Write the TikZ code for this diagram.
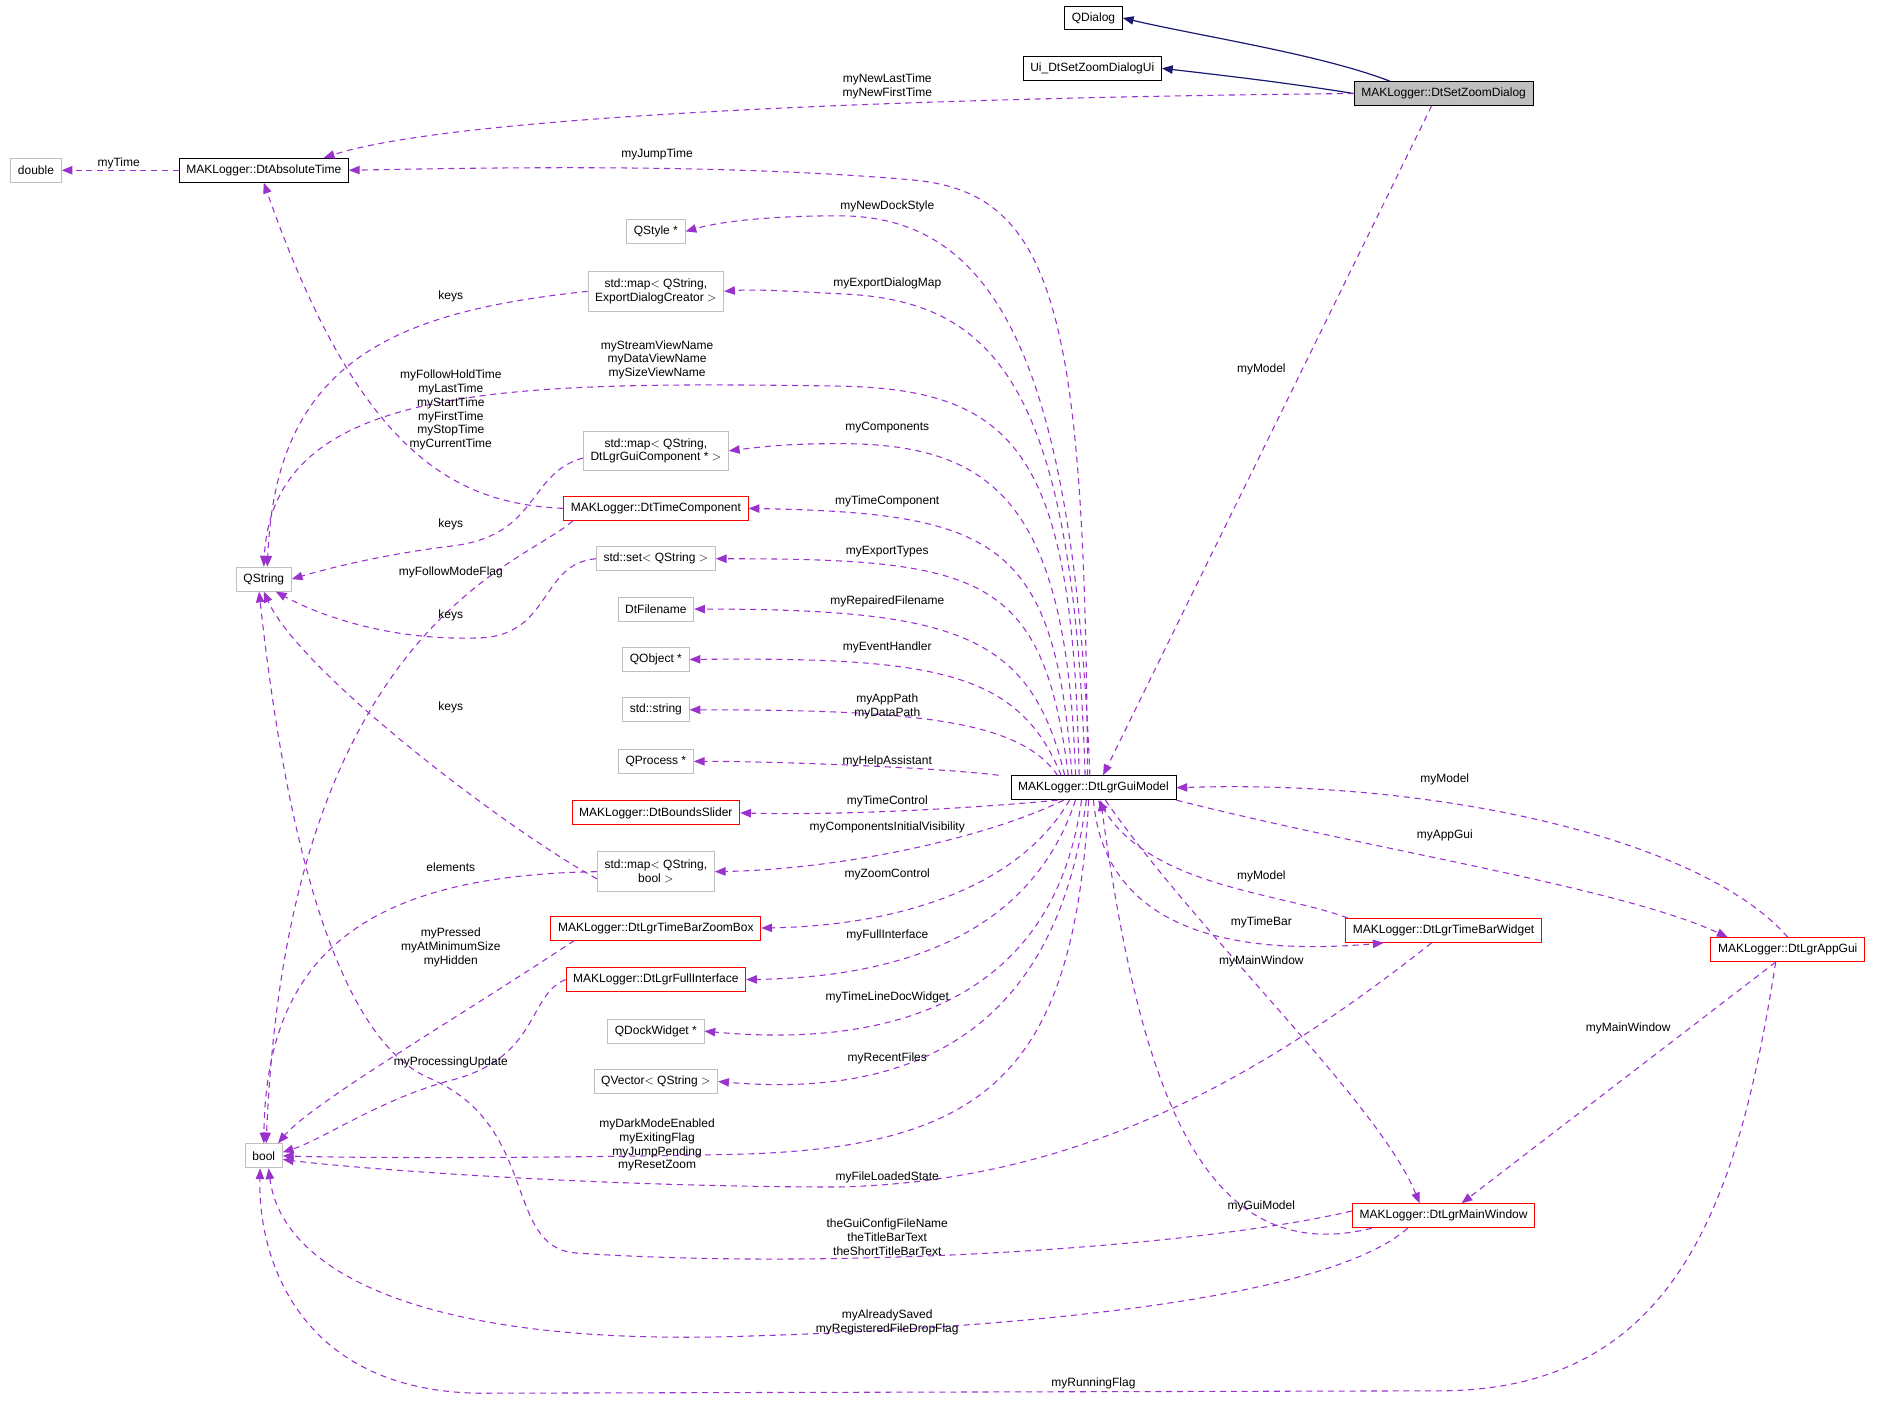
\documentclass[tikz,border=0pt]{standalone}
\usepackage{fontspec}
\setmainfont{Liberation Sans}
\usetikzlibrary{arrows.meta}
\definecolor{dep}{HTML}{9A32CD}
\definecolor{inh}{HTML}{191970}
\begin{document}
\begin{tikzpicture}[x=1pt,y=-1pt,
 box/.style={draw=#1,line width=0.8pt,minimum height=20pt,inner xsep=6pt,inner ysep=2pt,font=\fontsize{10}{11.5}\selectfont,align=center},
 gb/.style={box=black!25},
 rb/.style={box=red},
 bb/.style={box=black},
 dep/.style={draw=dep,dashed,dash pattern=on 5pt off 4pt,line width=0.9pt,-{Triangle[length=9pt,width=7pt]}},
 inh/.style={draw=inh,line width=1pt,-{Triangle[length=9pt,width=7pt]}},
 lbl/.style={font=\fontsize{10}{11.5}\selectfont,align=center,inner sep=0pt}]
\useasboundingbox (0,0) rectangle (1568,1170);
% nodes
\node[bb] (qd) at (912,15) {QDialog};
\node[bb] (ui) at (911,57) {Ui\_DtSetZoomDialogUi};
\node[bb,fill=black!25] (sz) at (1204,78) {MAKLogger::DtSetZoomDialog};
\node[gb] (dbl) at (30,142) {double};
\node[bb] (abs) at (220,142) {MAKLogger::DtAbsoluteTime};
\node[gb] (qst) at (547,193) {QStyle *};
\node[gb,minimum height=33pt] (med) at (547,243) {std::map$<$ QString,\\ExportDialogCreator $>$};
\node[gb] (qs) at (220,483) {QString};
\node[gb,minimum height=33pt] (mgc) at (547,376) {std::map$<$ QString,\\DtLgrGuiComponent * $>$};
\node[rb] (tc) at (547,424) {MAKLogger::DtTimeComponent};
\node[gb] (set) at (547,466) {std::set$<$ QString $>$};
\node[gb] (fn) at (547,508) {DtFilename};
\node[gb] (qo) at (547,550) {QObject *};
\node[gb] (str) at (547,592) {std::string};
\node[gb] (qp) at (547,635) {QProcess *};
\node[rb] (bs) at (547,678) {MAKLogger::DtBoundsSlider};
\node[gb,minimum height=33pt] (mb) at (547,727) {std::map$<$ QString,\\bool $>$};
\node[rb] (zb) at (547,774) {MAKLogger::DtLgrTimeBarZoomBox};
\node[rb] (fi) at (547,817) {MAKLogger::DtLgrFullInterface};
\node[gb] (dw) at (547,860) {QDockWidget *};
\node[gb] (qv) at (547,902) {QVector$<$ QString $>$};
\node[gb] (bool) at (220,964) {bool};
\node[bb] (gm) at (912,657) {MAKLogger::DtLgrGuiModel};
\node[rb] (tb) at (1204,776) {MAKLogger::DtLgrTimeBarWidget};
\node[rb] (ag) at (1491,792) {MAKLogger::DtLgrAppGui};
\node[rb] (mw) at (1204,1014) {MAKLogger::DtLgrMainWindow};
% inheritance
\draw[inh] ([xshift=-45pt]sz.north) .. controls (1100,45) and (1000,30) .. (qd.east);
\draw[inh] (sz.west) .. controls (1080,70) and (1030,64) .. (ui.east);
% dependencies
\draw[dep] (sz.west) .. controls (900,80) and (400,90) .. ([xshift=50pt]abs.north);
\draw[dep] ([xshift=-10pt]sz.south) -- ([xshift=8pt]gm.north);
\draw[dep] (abs.west) -- (dbl.east);
\draw[dep] ([xshift=-5pt]gm.north) .. controls (905,260) and (880,160) .. (760,150) .. controls (600,136) and (400,140) .. (abs.east);
\draw[dep] ([xshift=-3pt]gm.north) .. controls (895,300) and (830,180) .. (700,180) .. controls (640,180) and (600,185) .. (qst.east);
\draw[dep] ([xshift=-7pt]gm.north) .. controls (895,320) and (830,250) .. (700,245) .. controls (660,243) and (630,241) .. (med.east);
\draw[dep] (med.west) .. controls (330,260) and (230,300) .. ([xshift=3pt]qs.north);
\draw[dep] ([xshift=-12pt]gm.north) .. controls (895,380) and (850,325) .. (700,322) .. controls (420,318) and (228,320) .. (qs.north);
\draw[dep] (tc.west) .. controls (380,420) and (300,380) .. (abs.south);
\draw[dep] ([xshift=-15pt]gm.north) .. controls (890,420) and (830,370) .. (700,370) .. controls (660,370) and (640,372) .. (mgc.east);
\draw[dep] ([yshift=-6pt]mgc.west) .. controls (440,395) and (450,445) .. (380,455) .. controls (320,462) and (270,475) .. (qs.east);
\draw[dep] ([xshift=-18pt]gm.north) .. controls (880,450) and (830,428) .. (tc.east);
\draw[dep] ([xshift=8pt]tc.south west) .. controls (440,470) and (240,520) .. ([xshift=2pt]bool.north);
\draw[dep] ([xshift=-21pt]gm.north) .. controls (870,480) and (820,466) .. (set.east);
\draw[dep] (set.west) .. controls (450,470) and (460,530) .. (400,532) .. controls (320,535) and (260,510) .. ([xshift=10pt]qs.south);
\draw[dep] ([xshift=-24pt]gm.north) .. controls (860,530) and (800,508) .. (fn.east);
\draw[dep] ([xshift=-27pt]gm.north) .. controls (850,560) and (780,548) .. (qo.east);
\draw[dep] ([xshift=-30pt]gm.north) .. controls (850,600) and (760,592) .. (str.east);
\draw[dep] ([xshift=-10pt]gm.north west) .. controls (780,640) and (650,635) .. (qp.east);
\draw[dep] ([xshift=-30pt]gm.south) .. controls (800,675) and (700,680) .. (bs.east);
\draw[dep] ([xshift=-25pt]gm.south) .. controls (820,700) and (700,725) .. (mb.east);
\draw[dep] ([yshift=-6pt]mb.west) .. controls (420,690) and (250,560) .. (qs.south);
\draw[dep] (mb.west) .. controls (300,730) and (222,800) .. (bool.north);
\draw[dep] ([xshift=-20pt]gm.south) .. controls (850,740) and (750,772) .. (zb.east);
\draw[dep] ([xshift=20pt]zb.south west) .. controls (380,850) and (260,920) .. ([xshift=-4pt]bool.north east);
\draw[dep] ([xshift=-15pt]gm.south) .. controls (860,780) and (750,815) .. (fi.east);
\draw[dep] (fi.west) .. controls (440,830) and (450,880) .. (380,900) .. controls (320,915) and (270,950) .. ([yshift=3pt]bool.east);
\draw[dep] ([xshift=-10pt]gm.south) .. controls (880,830) and (750,875) .. (dw.east);
\draw[dep] ([xshift=-6pt]gm.south) .. controls (880,870) and (750,915) .. (qv.east);
\draw[dep] ([xshift=-4pt]gm.south) .. controls (895,900) and (820,960) .. (600,963) .. controls (450,966) and (300,966) .. (bool.east);
\draw[dep] (ag.north) .. controls (1420,700) and (1200,650) .. (gm.east);
\draw[dep] (gm.south east) .. controls (1150,710) and (1350,740) .. ([xshift=-50pt]ag.north);
\draw[dep] ([xshift=-80pt]tb.north) .. controls (1070,745) and (960,740) .. ([xshift=4pt]gm.south);
\draw[dep] ([xshift=0pt]gm.south) .. controls (920,760) and (1000,800) .. ([xshift=-50pt]tb.south);
\draw[dep] ([xshift=-10pt]tb.south) .. controls (1050,900) and (900,985) .. (700,990) .. controls (500,990) and (300,975) .. ([yshift=-3pt]bool.east);
\draw[dep] ([xshift=10pt]gm.south) .. controls (1000,780) and (1150,920) .. ([xshift=-20pt]mw.north);
\draw[dep] ([xshift=-10pt]ag.south) -- ([xshift=15pt]mw.north);
\draw[dep] ([xshift=-60pt]mw.south) .. controls (1000,1060) and (950,900) .. ([xshift=6pt]gm.south);
\draw[dep] ([yshift=4pt]mw.west) .. controls (1000,1040) and (700,1060) .. (480,1045) .. controls (420,1040) and (450,940) .. (360,900) .. controls (260,860) and (228,600) .. ([xshift=-4pt]qs.south);
\draw[dep] ([xshift=-30pt]mw.south) .. controls (1100,1090) and (800,1110) .. (600,1115) .. controls (350,1120) and (235,1060) .. ([xshift=4pt]bool.south);
\draw[dep] ([xshift=-10pt]ag.south) .. controls (1450,1000) and (1400,1160) .. (1200,1160) -- (400,1162) .. controls (250,1160) and (215,1050) .. ([xshift=-3pt]bool.south);
% labels
\node[lbl] (l1) at (740,72) {myNewLastTime\\myNewFirstTime};
\node[lbl] (l2) at (1052,308) {myModel};
\node[lbl] (l3) at (99,136) {myTime};
\node[lbl] (l4) at (548,129) {myJumpTime};
\node[lbl] (l5) at (740,172) {myNewDockStyle};
\node[lbl] (l6) at (740,236) {myExportDialogMap};
\node[lbl] (l7) at (376,247) {keys};
\node[lbl] (l8) at (548,300) {myStreamViewName\\myDataViewName\\mySizeViewName};
\node[lbl] (l9) at (376,342) {myFollowHoldTime\\myLastTime\\myStartTime\\myFirstTime\\myStopTime\\myCurrentTime};
\node[lbl] (l10) at (740,357) {myComponents};
\node[lbl] (l11) at (376,437) {keys};
\node[lbl] (l12) at (740,418) {myTimeComponent};
\node[lbl] (l13) at (376,477) {myFollowModeFlag};
\node[lbl] (l14) at (740,460) {myExportTypes};
\node[lbl] (l15) at (376,513) {keys};
\node[lbl] (l16) at (740,502) {myRepairedFilename};
\node[lbl] (l17) at (740,540) {myEventHandler};
\node[lbl] (l18) at (740,589) {myAppPath\\myDataPath};
\node[lbl] (l19) at (740,635) {myHelpAssistant};
\node[lbl] (l20) at (740,668) {myTimeControl};
\node[lbl] (l21) at (740,690) {myComponentsInitialVisibility};
\node[lbl] (l22) at (376,590) {keys};
\node[lbl] (l23) at (376,723) {elements};
\node[lbl] (l24) at (740,729) {myZoomControl};
\node[lbl] (l25) at (376,790) {myPressed\\myAtMinimumSize\\myHidden};
\node[lbl] (l26) at (740,780) {myFullInterface};
\node[lbl] (l27) at (376,886) {myProcessingUpdate};
\node[lbl] (l28) at (740,832) {myTimeLineDocWidget};
\node[lbl] (l29) at (740,883) {myRecentFiles};
\node[lbl] (l30) at (548,955) {myDarkModeEnabled\\myExitingFlag\\myJumpPending\\myResetZoom};
\node[lbl] (l31) at (1205,650) {myModel};
\node[lbl] (l32) at (1205,697) {myAppGui};
\node[lbl] (l33) at (1052,731) {myModel};
\node[lbl] (l34) at (1052,769) {myTimeBar};
\node[lbl] (l35) at (740,982) {myFileLoadedState};
\node[lbl] (l36) at (1052,802) {myMainWindow};
\node[lbl] (l37) at (1358,858) {myMainWindow};
\node[lbl] (l38) at (1052,1006) {myGuiModel};
\node[lbl] (l39) at (740,1032) {theGuiConfigFileName\\theTitleBarText\\theShortTitleBarText};
\node[lbl] (l40) at (740,1103) {myAlreadySaved\\myRegisteredFileDropFlag};
\node[lbl] (l41) at (912,1154) {myRunningFlag};
\end{tikzpicture}
\end{document}
